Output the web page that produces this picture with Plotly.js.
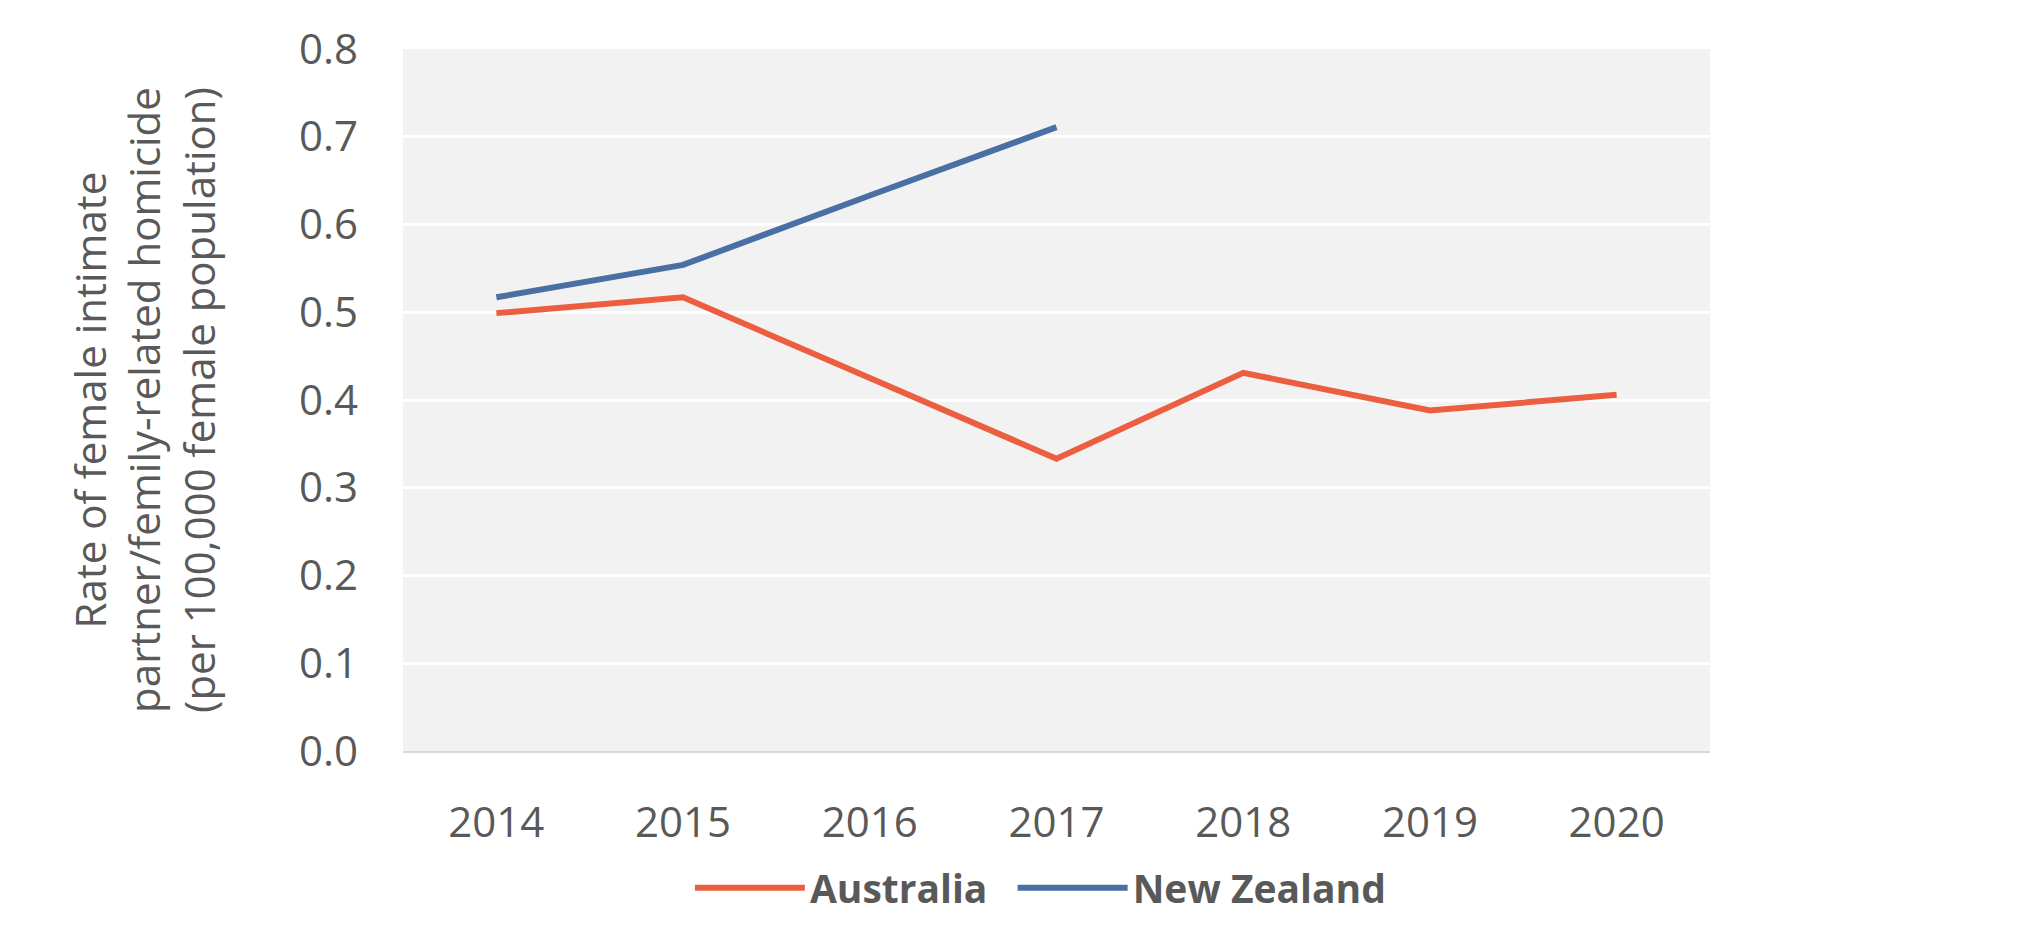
<!DOCTYPE html>
<html>
<head>
<meta charset="utf-8">
<script src="https://cdn.plot.ly/plotly-3.0.1.min.js"></script>
<style>html,body{margin:0;padding:0;background:#fff;}#chart{width:2020px;height:932px;}</style>
</head>
<body>
<div id="chart"></div>
<script>
const years = ["2014", "2015", "2016", "2017", "2018", "2019", "2020"];
const australia = [0.499, 0.517, 0.425, 0.333, 0.431, 0.388, 0.406];
const nzYears = ["2014", "2015", "2016", "2017"];
const newZealand = [0.517, 0.554, 0.633, 0.711];
const yTicks = [0, 0.1, 0.2, 0.3, 0.4, 0.5, 0.6, 0.7, 0.8];
const yTickText = ["0.0", "0.1", "0.2", "0.3", "0.4", "0.5", "0.6", "0.7", "0.8"];

const traces = [
  {x: years, y: australia, name: "Australia\u00A0\u00A0", type: "scatter", mode: "lines",
   line: {color: "#EB5F40", width: 6}},
  {x: nzYears, y: newZealand, name: "New Zealand", type: "scatter", mode: "lines",
   line: {color: "#4A6FA3", width: 6}}
];

const layout = {
  width: 2020, height: 932,
  margin: {l: 403, r: 310, t: 49, b: 175},
  paper_bgcolor: "#ffffff",
  plot_bgcolor: "#F2F2F2",
  font: {family: "Open Sans, sans-serif", color: "#595959", size: 42},
  showlegend: true,
  legend: {orientation: "h", x: 0.2195, xanchor: "left", y: -0.195, yanchor: "middle",
           font: {size: 39, color: "#595959", weight: "bold"}, itemwidth: 110,
           bgcolor: "rgba(0,0,0,0)"},
  xaxis: {type: "category", range: [-0.5, 6.5], showgrid: false, zeroline: false,
          showline: true, linecolor: "#D9D9D9", linewidth: 2, ticks: "",
          tickfont: {size: 42, color: "#595959"}, ticklabelstandoff: 34, fixedrange: true},
  yaxis: {range: [0, 0.8], tickvals: yTicks, ticktext: yTickText, showgrid: true,
          gridcolor: "#FFFFFF", gridwidth: 3, zeroline: false, showline: false, ticks: "",
          tickfont: {size: 42, color: "#595959"}, ticklabelstandoff: 44,
          title: {text: "Rate of female intimate<br>partner/femily-related homicide<br>(per 100,000 female population)",
                  font: {size: 42, color: "#595959"}, standoff: 70}, automargin: false, fixedrange: true}
};

Plotly.newPlot("chart", traces, layout, {displayModeBar: false, staticPlot: true});
</script>
</body>
</html>
